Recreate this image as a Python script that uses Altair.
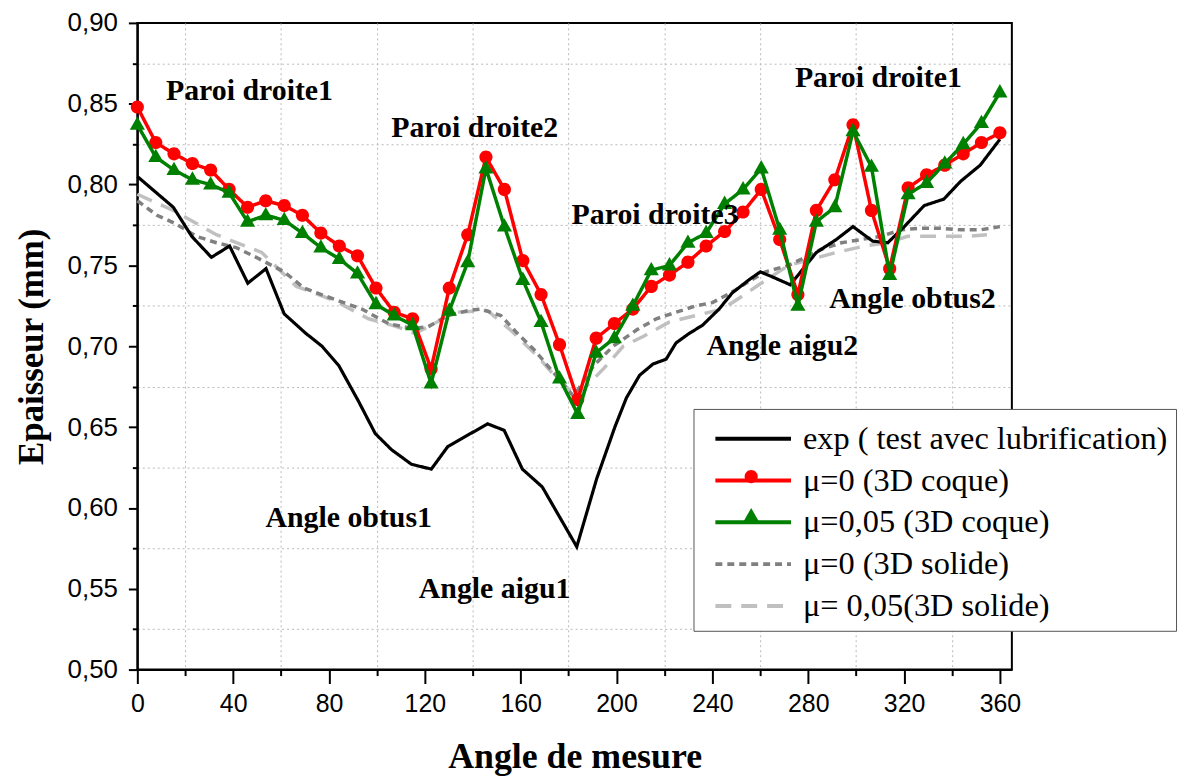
import altair as alt
import pandas as pd

# ---------------- data ----------------
names = [
    "exp ( test avec lubrification)",
    "μ=0 (3D coque)",
    "μ=0,05 (3D coque)",
    "μ=0 (3D solide)",
    "μ= 0,05(3D solide)",
]
# marker legend uses the same labels with a trailing space so it stays a separate legend
marker_names = [n + " " for n in names]

coque_angle = [0.0, 7.7, 15.3, 23.0, 30.6, 38.3, 46.0, 53.6, 61.3, 68.9, 76.6, 84.3,
               91.9, 99.6, 107.2, 114.9, 122.6, 130.2, 137.9, 145.5, 153.2, 160.9,
               168.5, 176.2, 183.8, 191.5, 199.1, 206.8, 214.5, 222.1, 229.8, 237.4,
               245.1, 252.8, 260.4, 268.1, 275.7, 283.4, 291.1, 298.7, 306.4, 314.0,
               321.7, 329.4, 337.0, 344.7, 352.3, 360.0]

coque_mu0 = [0.848, 0.826, 0.819, 0.813, 0.809, 0.797, 0.786, 0.790, 0.787, 0.781,
             0.770, 0.762, 0.756, 0.736, 0.721, 0.717, 0.686, 0.736, 0.769, 0.817,
             0.797, 0.753, 0.732, 0.701, 0.667, 0.705, 0.714, 0.723, 0.737, 0.744,
             0.752, 0.762, 0.771, 0.783, 0.797, 0.766, 0.732, 0.784, 0.803, 0.837,
             0.784, 0.748, 0.798, 0.806, 0.812, 0.819, 0.826, 0.832]

coque_mu005 = [0.837, 0.817, 0.809, 0.803, 0.800, 0.795, 0.777, 0.781, 0.778, 0.770,
               0.761, 0.754, 0.745, 0.726, 0.719, 0.713, 0.677, 0.722, 0.752, 0.810,
               0.774, 0.741, 0.715, 0.680, 0.658, 0.696, 0.705, 0.725, 0.747, 0.750,
               0.764, 0.770, 0.788, 0.797, 0.810, 0.772, 0.725, 0.777, 0.786, 0.833,
               0.811, 0.744, 0.794, 0.801, 0.813, 0.825, 0.838, 0.857]

exp_angle = [0, 15.0, 22.7, 30.9, 38.5, 46.1, 53.7, 61.3, 70.3, 77.1, 84.1, 92.3,
             99.3, 106.1, 114.4, 122.7, 129.6, 137.9, 146.2, 153.1, 160.7, 169.0,
             183.4, 191.7, 199.3, 204.1, 209.6, 215.2, 220.7, 224.8, 230.4, 235.9,
             242.8, 248.3, 255.2, 260.0, 264.9, 272.5, 283.4, 291.7, 298.7, 306.9,
             313.2, 320.1, 328.4, 336.6, 343.6, 351.8, 360.0]
exp_val = [0.805, 0.786, 0.768, 0.755, 0.762, 0.739, 0.748, 0.720, 0.708, 0.700,
           0.688, 0.666, 0.646, 0.636, 0.627, 0.624, 0.638, 0.645, 0.652, 0.648,
           0.624, 0.613, 0.576, 0.618, 0.650, 0.668, 0.682, 0.689, 0.692, 0.702,
           0.708, 0.713, 0.723, 0.733, 0.741, 0.746, 0.743, 0.738, 0.758, 0.766,
           0.774, 0.765, 0.764, 0.774, 0.787, 0.791, 0.802, 0.812, 0.828]

solid0_angle = [0, 8.2, 15.7, 24.7, 33.0, 41.3, 49.6, 61.3, 69.6, 78.6, 93.7, 104.8,
                114.4, 121.3, 129.6, 137.9, 143.4, 151.7, 158.6, 165.5, 172.4, 182.1,
                190.4, 198.6, 208.3, 216.6, 224.8, 233.1, 240.0, 247.6, 255.2, 262.1,
                271.8, 277.3, 285.6, 293.9, 302.1, 310.4, 318.7, 327.0, 335.3, 343.6,
                351.9, 360.0]
solid0_val = [0.790, 0.781, 0.776, 0.768, 0.764, 0.761, 0.755, 0.746, 0.736, 0.731,
              0.723, 0.714, 0.711, 0.712, 0.719, 0.722, 0.723, 0.719, 0.708, 0.698,
              0.686, 0.669, 0.688, 0.700, 0.710, 0.717, 0.721, 0.725, 0.727, 0.733,
              0.740, 0.746, 0.750, 0.754, 0.760, 0.764, 0.766, 0.768, 0.772, 0.773,
              0.773, 0.772, 0.772, 0.774]

solid005_angle = [0, 15.0, 33.0, 51.9, 66.4, 82.7, 96.5, 107.5, 115.7, 121.5, 132.4,
                  146.2, 155.8, 166.9, 175.2, 183.4, 194.5, 202.8, 211.1, 222.1, 244.2,
                  252.5, 259.4, 271.8, 291.7, 303.5, 313.2, 321.5, 346.3, 354.6]
solid005_val = [0.794, 0.784, 0.769, 0.758, 0.737, 0.728, 0.717, 0.7125, 0.708, 0.712,
                0.721, 0.722, 0.710, 0.694, 0.680, 0.669, 0.686, 0.700, 0.706, 0.715,
                0.723, 0.731, 0.738, 0.750, 0.758, 0.762, 0.764, 0.768, 0.768, 0.769]

ann_text = ["Paroi droite1", "Paroi droite2", "Paroi droite3", "Paroi droite1",
            "Angle obtus2", "Angle aigu2", "Angle obtus1", "Angle aigu1"]
ann_angle = [46.8, 140.8, 216.1, 309.3, 323.5, 269.2, 88.2, 149.1]
ann_val = [0.858, 0.835, 0.781, 0.866, 0.729, 0.700, 0.594, 0.550]

x_major_ticks = [0, 40, 80, 120, 160, 200, 240, 280, 320, 360]
x_minor_ticks = [20, 60, 100, 140, 180, 220, 260, 300, 340]
y_major_ticks = [0.50, 0.55, 0.60, 0.65, 0.70, 0.75, 0.80, 0.85, 0.90]
y_minor_ticks = [0.525, 0.575, 0.625, 0.675, 0.725, 0.775, 0.825, 0.875]

# ---------------- styles ----------------
colors = ["#000000", "#ff0000", "#008000", "#808080", "#c0c0c0"]
dashes = [[1, 0], [1, 0], [1, 0], [7, 5], [16, 10]]
CIRCLE = "M-0.33,0A0.33,0.33,0,1,0,0.33,0A0.33,0.33,0,1,0,-0.33,0Z"
TRIANGLE = "M0,-0.42L0.38,0.25L-0.38,0.25Z"
LINE_SYM = "M-1.9,0H1.9"
marker_fill = ["transparent", "#ff0000", "#008000", "transparent", "transparent"]
marker_shape = [CIRCLE, CIRCLE, TRIANGLE, CIRCLE, CIRCLE]

# ---------------- tables ----------------
def frame(angles, vals, i):
    return pd.DataFrame({"angle": angles, "val": vals,
                         "series": names[i], "series_m": marker_names[i]})

df_exp = frame(exp_angle, exp_val, 0)
df_red = frame(coque_angle, coque_mu0, 1)
df_green = frame(coque_angle, coque_mu005, 2)
df_s0 = frame(solid0_angle, solid0_val, 3)
df_s05 = frame(solid005_angle, solid005_val, 4)
df_ann = pd.DataFrame({"angle": ann_angle, "val": ann_val, "text": ann_text})

# ---------------- scales / axes ----------------
xscale = alt.Scale(domain=[0, 365], nice=False, zero=False)
yscale = alt.Scale(domain=[0.5, 0.9], nice=False, zero=False)

x_axis = alt.Axis(values=x_major_ticks, grid=False, tickSize=14, tickWidth=2,
                  tickColor="black", domainColor="black", domainWidth=2,
                  labelFont="Liberation Sans", labelFontSize=25, labelColor="black",
                  labelPadding=8, labelFlush=False,
                  title="Angle de mesure", titleFont="Liberation Serif",
                  titleFontSize=36, titleFontWeight="bold", titleColor="black",
                  titlePadding=23, orient="bottom")
y_axis = alt.Axis(values=y_major_ticks, grid=False, tickSize=9, tickWidth=2,
                  tickColor="black", domainColor="black", domainWidth=2,
                  labelFont="Liberation Sans", labelFontSize=26, labelColor="black",
                  labelPadding=11, labelFlush=False,
                  labelExpr="replace(format(datum.value, '.2f'), '.', ',')",
                  title="Epaisseur (mm)", titleFont="Liberation Serif",
                  titleFontSize=35, titleFontWeight="bold", titleColor="black",
                  titlePadding=18, orient="left")
x_minor = alt.Axis(values=x_minor_ticks, grid=True, gridDash=[2, 3], gridColor="#b8b8b8",
                   gridWidth=1, labels=False, domain=False, tickSize=6, tickWidth=2,
                   tickColor="black", title=None, orient="bottom")
y_minor = alt.Axis(values=y_minor_ticks, grid=True, gridDash=[2, 3], gridColor="#b8b8b8",
                   gridWidth=1, labels=False, domain=False, tickSize=5, tickWidth=2,
                   tickColor="black", title=None, orient="left")

X = alt.X("angle:Q", scale=xscale, axis=x_axis)
Y = alt.Y("val:Q", scale=yscale, axis=y_axis)

legend_common = dict(orient="none", legendX=559, legendY=388, title=None,
                     symbolSize=1600, symbolOffset=30, labelOffset=28,
                     labelFont="Liberation Serif", labelFontSize=32.5, labelLimit=700,
                     rowPadding=3, padding=8)
line_legend = alt.Legend(symbolType=LINE_SYM, symbolStrokeWidth=4, labelColor="black",
                         strokeColor="#555555", fillColor="white", zindex=1,
                         **legend_common)
marker_legend = alt.Legend(symbolStrokeWidth=0, labelExpr="''", zindex=2,
                           **legend_common)

C = alt.Color("series:N", scale=alt.Scale(domain=names, range=colors), legend=line_legend)
D = alt.StrokeDash("series:N", scale=alt.Scale(domain=names, range=dashes), legend=line_legend)
F = alt.Fill("series_m:N", scale=alt.Scale(domain=marker_names, range=marker_fill),
             legend=marker_legend)
S = alt.Shape("series_m:N", scale=alt.Scale(domain=marker_names, range=marker_shape),
              legend=marker_legend)

def line(df, width):
    return alt.Chart(df).mark_line(strokeWidth=width).encode(x=X, y=Y, color=C, strokeDash=D)

def pts(df):
    return alt.Chart(df).mark_point(filled=True, size=1600, opacity=1, strokeWidth=0).encode(
        x=X, y=Y, fill=F, shape=S)

annotations = alt.Chart(df_ann).mark_text(
    font="Liberation Serif", fontSize=30, fontWeight="bold", color="black",
    align="center", baseline="middle"
).encode(x=X, y=Y, text="text:N")

main = alt.layer(
    line(df_s05, 3.5), line(df_s0, 3.5), line(df_exp, 3.2),
    line(df_red, 3.5), pts(df_red),
    line(df_green, 3.5), pts(df_green),
    annotations,
)

minor = alt.Chart(df_exp).mark_line(opacity=0).encode(
    x=alt.X("angle:Q", scale=xscale, axis=x_minor),
    y=alt.Y("val:Q", scale=yscale, axis=y_minor),
)

chart = alt.layer(minor, main).resolve_axis(x="independent", y="independent").properties(
    width=879, height=650,
    padding={"left": 6, "top": 0, "right": 5, "bottom": 5},
).configure_view(stroke="black", strokeWidth=2)

chart.save("out.html", embed_options={"renderer": "svg", "actions": False})
